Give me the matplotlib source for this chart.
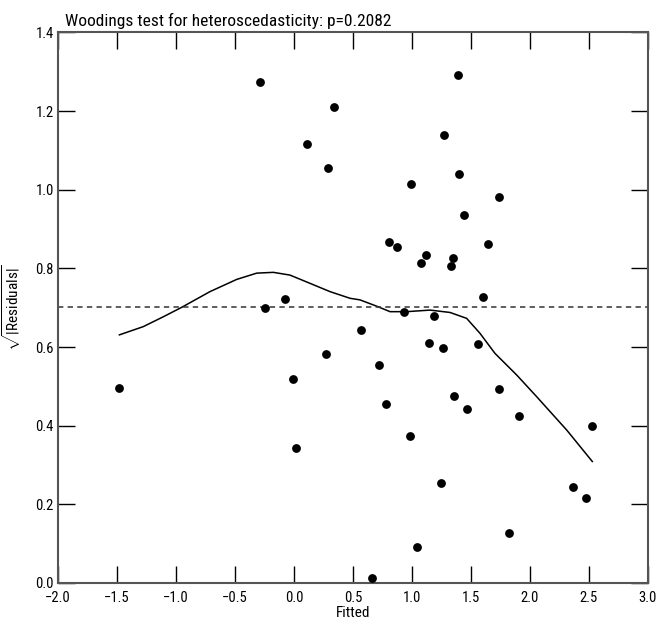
import matplotlib
matplotlib.use("Agg")
import matplotlib.pyplot as plt
from matplotlib.ticker import FuncFormatter

plt.rcParams['font.family'] = ['Roboto Condensed', 'DejaVu Sans']
plt.rcParams['mathtext.fontset'] = 'custom'
plt.rcParams['mathtext.rm'] = 'Roboto Condensed'

# fitted values and sqrt(|residuals|)
fitted = [-0.29, 0.113, 0.285, -0.243, -0.074,
          1.393, 0.342, 1.271, 1.398, 0.994, 1.737, 1.441, 0.808, 0.873,
          1.647, 1.121, 1.079, 1.345, 1.331, 1.599, 0.935,
          -1.48, -0.011, 0.017, 0.271,
          1.186, 0.568, 1.141, 1.26, 1.557, 0.72, 0.78, 1.74, 1.356, 1.469,
          1.907, 2.525, 0.986, 1.249, 2.364, 2.472, 1.825, 1.04, 0.661]
sqrt_resid = [1.273, 1.116, 1.055, 0.699, 0.723,
              1.291, 1.211, 1.139, 1.039, 1.014, 0.982, 0.935, 0.866, 0.855,
              0.863, 0.834, 0.815, 0.827, 0.806, 0.727, 0.689,
              0.496, 0.519, 0.343, 0.582,
              0.678, 0.643, 0.610, 0.598, 0.607, 0.554, 0.454, 0.494, 0.476, 0.443,
              0.425, 0.399, 0.375, 0.254, 0.244, 0.215, 0.128, 0.092, 0.012]

# smoothed curve
smooth_x = [-1.48, -1.277, -1.108, -0.952, -0.712, -0.486, -0.316, -0.175,
            -0.034, 0.136, 0.305, 0.475, 0.559, 0.70, 0.814, 0.955, 1.153,
            1.322, 1.463, 1.576, 1.703, 1.887, 2.056, 2.311, 2.528]
smooth_y = [0.631, 0.652, 0.677, 0.701, 0.741, 0.772, 0.788, 0.790,
            0.783, 0.762, 0.741, 0.724, 0.720, 0.704, 0.690, 0.690, 0.694,
            0.688, 0.673, 0.635, 0.584, 0.529, 0.474, 0.389, 0.309]

mean_line = 0.703
p_value = 0.2082

x_ticks = [-2.0, -1.5, -1.0, -0.5, 0.0, 0.5, 1.0, 1.5, 2.0, 2.5, 3.0]
y_ticks = [0.0, 0.2, 0.4, 0.6, 0.8, 1.0, 1.2, 1.4]

fmt = FuncFormatter(lambda v, pos: f"{v:.1f}".replace('-', '\u2212'))

fig = plt.figure(figsize=(6.6, 6.21), dpi=100)
ax = fig.add_axes([0.0879, 0.0612, 0.8939, 0.8865])

ax.scatter(fitted, sqrt_resid, s=40, color='black', zorder=3, linewidths=0)
ax.plot(smooth_x, smooth_y, color='black', lw=1.1)
ax.axhline(mean_line, color='#333333', lw=1.1, linestyle=(0, (3.5, 2.8)))

ax.set_xlim(-2.0, 3.0)
ax.set_ylim(0.0, 1.4)
ax.set_xticks(x_ticks)
ax.set_yticks(y_ticks)
ax.xaxis.set_major_formatter(fmt)
ax.yaxis.set_major_formatter(fmt)
ax.tick_params(direction='in', length=12, width=1, top=True, right=True,
               labelsize=10.5, colors='black', pad=3)
ax.tick_params(axis='x', pad=5.5)
for sp in ax.spines.values():
    sp.set_color('#555555')
    sp.set_linewidth(1.5)

ax.set_xlabel('Fitted', fontsize=11, labelpad=1)
ax.set_ylabel(r'$\sqrt{\mathrm{|Residuals|}}$', fontsize=11)
ax.yaxis.set_label_coords(-0.06, 0.5)
ax.set_title(f'Woodings test for heteroscedasticity: p={p_value}',
             fontsize=12.5, loc='left', x=0.012, pad=5)

fig.savefig('out.png', dpi=100)
